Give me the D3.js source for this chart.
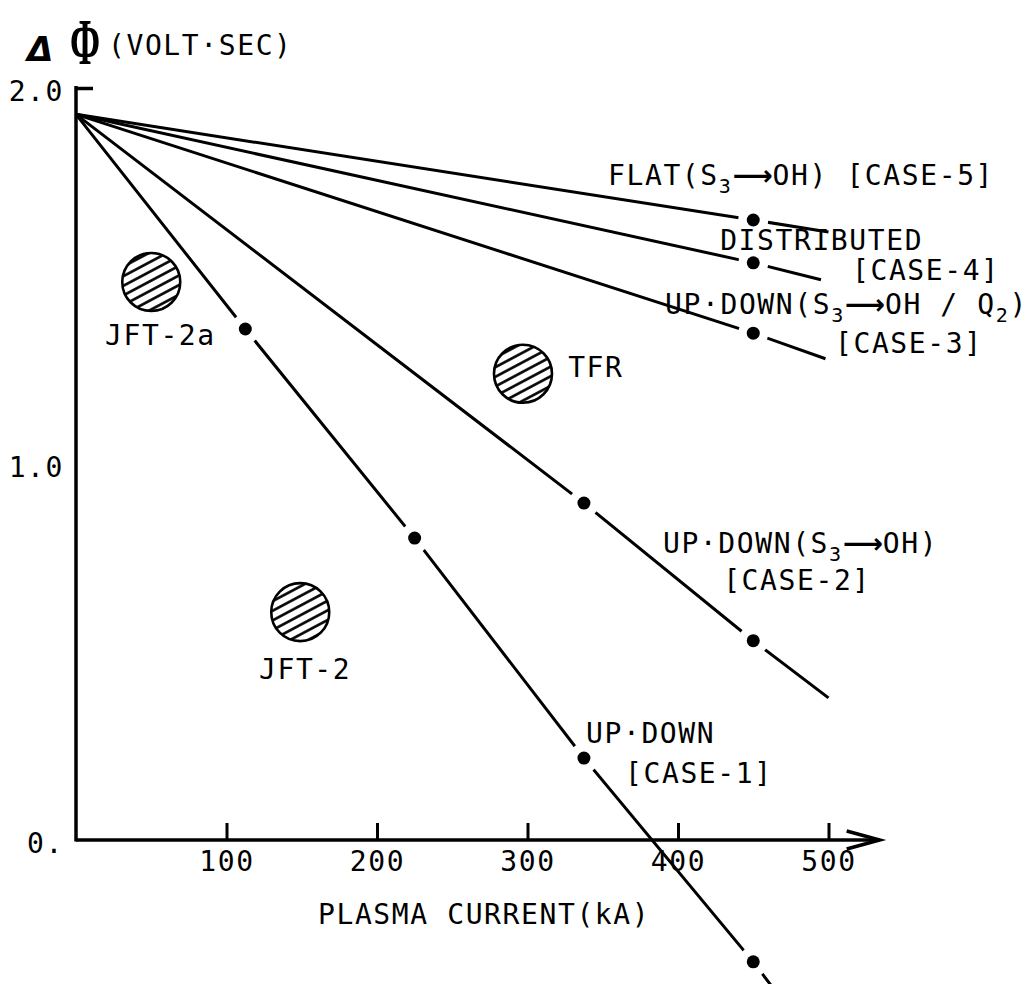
<!DOCTYPE html>
<html>
<head>
<meta charset="utf-8">
<script src="https://cdn.jsdelivr.net/npm/d3@7"></script>
<style>
body { margin: 0; background: #fff; }
text { font-family: "DejaVu Sans Mono", monospace; font-size: 28px; letter-spacing: 1.6px; fill: #000; }
</style>
</head>
<body>
<div id="chart"></div>
<script>
// plasma current (kA) vs flux swing (volt-sec)
var xTicks = [100, 200, 300, 400, 500];
var yTicks = [0, 1, 2];
var yTickLabels = ["0.", "1.0", "2.0"];

// each case: line points and computed dots
var case1Line = [[0, 1.93], [112.5, 1.359], [225, 0.803], [337.5, 0.218], [450, -0.324], [470, -0.43]];
var case1Dots = [[112.5, 1.359], [225, 0.803], [337.5, 0.218], [450, -0.324]];
var case2Line = [[0, 1.93], [337.5, 0.896], [450, 0.53], [500, 0.378]];
var case2Dots = [[337.5, 0.896], [450, 0.53]];
var case3Line = [[0, 1.93], [450, 1.348], [498, 1.28]];
var case3Dots = [[450, 1.348]];
var case4Line = [[0, 1.93], [450, 1.535], [495, 1.49]];
var case4Dots = [[450, 1.535]];
var case5Line = [[0, 1.93], [450, 1.649], [500, 1.617]];
var case5Dots = [[450, 1.649]];

// existing machines
var devices = ["JFT-2a", "TFR", "JFT-2"];
var deviceCurrent = [50, 297, 149];
var deviceFlux = [1.484, 1.24, 0.606];

// annotation texts and where they sit (kA, volt-sec); "_n" marks a subscript
var labelText = ["FLAT(S_3⟶OH) [CASE-5]", "DISTRIBUTED", "[CASE-4]", "UP·DOWN(S_3⟶OH / Q_2)", "[CASE-3]",
    "UP·DOWN(S_3⟶OH)", "[CASE-2]", "UP·DOWN", "[CASE-1]", "TFR", "JFT-2a", "JFT-2"];
var labelCurrent = [353.5, 428, 515.6, 391.4, 504.3, 390, 430, 338.9, 364.8, 327, 19.3, 121.6];
var labelFlux = [1.742, 1.569, 1.489, 1.399, 1.295, 0.763, 0.665, 0.258, 0.152, 1.231, 1.316, 0.428];

var width = 1032, height = 984;

var svg = d3.select("#chart").append("svg")
    .attr("width", width)
    .attr("height", height);

var x = d3.scaleLinear().domain([0, 500]).range([76, 828.5]);
var y = d3.scaleLinear().domain([0, 2]).range([840, 88]);

var pat = svg.append("defs").append("pattern")
    .attr("id", "hatch")
    .attr("patternUnits", "userSpaceOnUse")
    .attr("width", 8.5).attr("height", 8.5)
    .attr("patternTransform", "rotate(-28)");
pat.append("rect").attr("width", 8.5).attr("height", 8.5).attr("fill", "#fff");
pat.append("line")
    .attr("x1", 0).attr("y1", 4.25).attr("x2", 8.5).attr("y2", 4.25)
    .attr("stroke", "#000").attr("stroke-width", 2.6);

// x axis, ticks point up
var xAxis = svg.append("g")
    .attr("transform", "translate(0," + y(0) + ")")
    .call(d3.axisBottom(x).tickValues(xTicks).tickSizeInner(-17).tickSizeOuter(0).tickPadding(11));
xAxis.select(".domain").remove();
xAxis.selectAll(".tick line").attr("stroke-width", 3);

svg.append("line")
    .attr("x1", x(0)).attr("y1", y(0))
    .attr("x2", x(534)).attr("y2", y(0))
    .attr("stroke", "#000").attr("stroke-width", 3.5);
svg.append("path")
    .attr("d", "M" + (x(534) - 33) + "," + (y(0) - 9) + "L" + x(534) + "," + y(0) + "L" + (x(534) - 33) + "," + (y(0) + 9))
    .attr("fill", "none").attr("stroke", "#000").attr("stroke-width", 3.5);

// y axis
var yAxis = svg.append("g")
    .attr("transform", "translate(" + x(0) + ",0)")
    .call(d3.axisLeft(y).tickValues(yTicks).tickFormat(function(d, i) { return yTickLabels[i]; })
        .tickSizeInner(-17).tickSizeOuter(0).tickPadding(12));
yAxis.select(".domain").remove();
yAxis.selectAll(".tick line")
    .attr("stroke-width", 3.5)
    .style("display", function(d) { return d === 2 ? null : "none"; });
yAxis.selectAll(".tick text").attr("dy", "0.45em");

svg.append("line")
    .attr("x1", x(0)).attr("y1", y(0) + 1.5)
    .attr("x2", x(0)).attr("y2", y(2) - 2)
    .attr("stroke", "#000").attr("stroke-width", 3.5);

// case lines
var line = d3.line()
    .x(function(d) { return x(d[0]); })
    .y(function(d) { return y(d[1]); });

var lines = [case1Line, case2Line, case3Line, case4Line, case5Line];
var dots = [].concat(case1Dots, case2Dots, case3Dots, case4Dots, case5Dots);

svg.selectAll(".case")
    .data(lines)
    .enter().append("path")
    .attr("class", "case")
    .attr("d", line)
    .attr("fill", "none")
    .attr("stroke", "#000")
    .attr("stroke-width", 3);

// gap in the line round each dot
svg.selectAll(".gap")
    .data(dots)
    .enter().append("circle")
    .attr("class", "gap")
    .attr("cx", function(d) { return x(d[0]); })
    .attr("cy", function(d) { return y(d[1]); })
    .attr("r", 15)
    .attr("fill", "#fff");

svg.selectAll(".dot")
    .data(dots)
    .enter().append("circle")
    .attr("class", "dot")
    .attr("cx", function(d) { return x(d[0]); })
    .attr("cy", function(d) { return y(d[1]); })
    .attr("r", 6.5)
    .attr("fill", "#000");

// machines
svg.selectAll(".device")
    .data(devices)
    .enter().append("circle")
    .attr("class", "device")
    .attr("cx", function(d, i) { return x(deviceCurrent[i]); })
    .attr("cy", function(d, i) { return y(deviceFlux[i]); })
    .attr("r", 29)
    .attr("fill", "url(#hatch)")
    .attr("stroke", "#000")
    .attr("stroke-width", 2.6);

// labels
labelText.forEach(function(t, i) {
    var txt = svg.append("text")
        .attr("x", x(labelCurrent[i]))
        .attr("y", y(labelFlux[i]));
    var shift = 0;
    t.split(/_(\d)/).forEach(function(p, j) {
        if (p === "") return;
        if (j % 2 === 1) {
            txt.append("tspan").attr("dy", 8).style("font-size", "20px").text(p);
            shift = -8;
            return;
        }
        p.split(/(⟶)/).forEach(function(q) {
            if (q === "") return;
            var ts = txt.append("tspan").attr("dy", shift).text(q);
            shift = 0;
            if (q === "⟶") {
                ts.style("font-family", "DejaVu Sans").style("letter-spacing", "0px").style("font-weight", "bold");
            }
        });
    });
});

// axis titles
svg.append("text")
    .attr("x", 318).attr("y", 924)
    .text("PLASMA CURRENT(kA)");

svg.append("text")
    .attr("x", 27).attr("y", 61)
    .style("font-family", "DejaVu Sans")
    .style("font-style", "oblique")
    .style("font-weight", "bold")
    .style("font-size", "34px")
    .text("Δ");
svg.append("text")
    .attr("transform", "translate(85,64) scale(0.55,1)")
    .attr("text-anchor", "middle")
    .style("font-family", "Liberation Serif")
    .style("font-weight", "bold")
    .style("font-size", "66px")
    .style("letter-spacing", "0px")
    .text("Φ");
svg.append("text")
    .attr("x", 108).attr("y", 55)
    .text("(VOLT·SEC)");
</script>
</body>
</html>
